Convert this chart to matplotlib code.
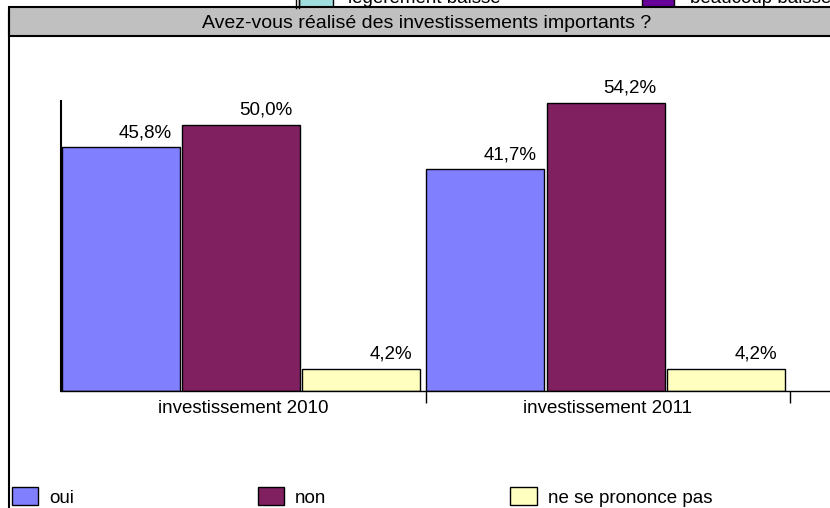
import matplotlib.pyplot as plt
from matplotlib.patches import Rectangle
from matplotlib.lines import Line2D
import numpy as np

plt.rcParams['font.family'] = ['Liberation Sans', 'DejaVu Sans']

# data
categories = ['investissement 2010', 'investissement 2011']
series = ['oui', 'non', 'ne se prononce pas']
values = {
    'oui': [45.8, 41.7],
    'non': [50.0, 54.2],
    'ne se prononce pas': [4.2, 4.2],
}
colors = ['#8080ff', '#802060', '#ffffc0']
title = 'Avez-vous réalisé des investissements importants ?'

W, H = 830, 508
FS = 13.5


def fx(px):
    return px / W


def fy(py):
    return 1 - py / H


fig = plt.figure(figsize=(8.3, 5.08), dpi=100)

# bits of the neighbouring chart's legend, cut off at the top
fig.add_artist(Line2D([fx(296), fx(296)], [fy(0), fy(8)], color='black', lw=1))
fig.add_artist(Line2D([fx(299), fx(299)], [fy(0), fy(8)], color='black', lw=1))
fig.add_artist(Rectangle((fx(299), fy(7)), fx(34), fy(-10) - fy(7),
                         facecolor='#a0dede', edgecolor='black', lw=1))
fig.text(fx(348), fy(3), 'légèrement baisse', fontsize=FS, va='baseline')
fig.add_artist(Rectangle((fx(642), fy(7)), fx(32), fy(-10) - fy(7),
                         facecolor='#660099', edgecolor='black', lw=1))
fig.text(fx(690), fy(3), 'beaucoup baisse', fontsize=FS, va='baseline')

# frame and title band
fig.add_artist(Line2D([fx(8.5), fx(8.5)], [fy(12), fy(H)], color='black', lw=1.5))
fig.add_artist(Rectangle((fx(9), fy(36)), fx(840), fy(7) - fy(36),
                         facecolor='#c0c0c0', edgecolor='black', lw=1.5))
fig.text(fx(427), fy(23), title, fontsize=14, ha='center', va='center')

# plot area
ax = fig.add_axes([fx(61), fy(391), fx(W - 61), fy(101) - fy(391)])
x = np.arange(len(categories))
width = 0.324
offsets = [-0.336, -0.006, 0.324]
handles = []
for i, s in enumerate(series):
    bars = ax.bar(x + offsets[i], values[s], width, color=colors[i],
                  edgecolor='black', linewidth=1, label=s)
    handles.append(bars)
    for b, v in zip(bars, values[s]):
        ax.annotate(('%.1f%%' % v).replace('.', ','),
                    (b.get_x() + b.get_width(), b.get_height()),
                    xytext=(-8, 10), textcoords='offset pixels',
                    ha='right', va='baseline', fontsize=FS)

ax.set_xlim(-0.5, -0.5 + (W - 61) / 364.5)
ax.set_ylim(0, 54.5)
ax.set_xticks(x)
ax.set_xticklabels(categories, fontsize=FS)
ax.set_xticks(x + 0.5, minor=True)
ax.tick_params(axis='x', which='major', length=0, pad=6.5)
ax.tick_params(axis='x', which='minor', length=8.6, width=1, color='black')
ax.set_yticks([])
ax.spines['top'].set_visible(False)
ax.spines['right'].set_visible(False)
ax.spines['left'].set_linewidth(1.5)
ax.spines['bottom'].set_linewidth(1)
ax.patch.set_visible(False)

fig.legend(handles=handles, labels=series, loc='center left',
           bbox_to_anchor=(fx(12), fy(497)), ncol=3, frameon=False,
           fontsize=FS, handlelength=1.4, handleheight=1.07,
           handletextpad=0.59, columnspacing=9.8,
           borderpad=0, borderaxespad=0)

plt.savefig('out.png', dpi=100)
